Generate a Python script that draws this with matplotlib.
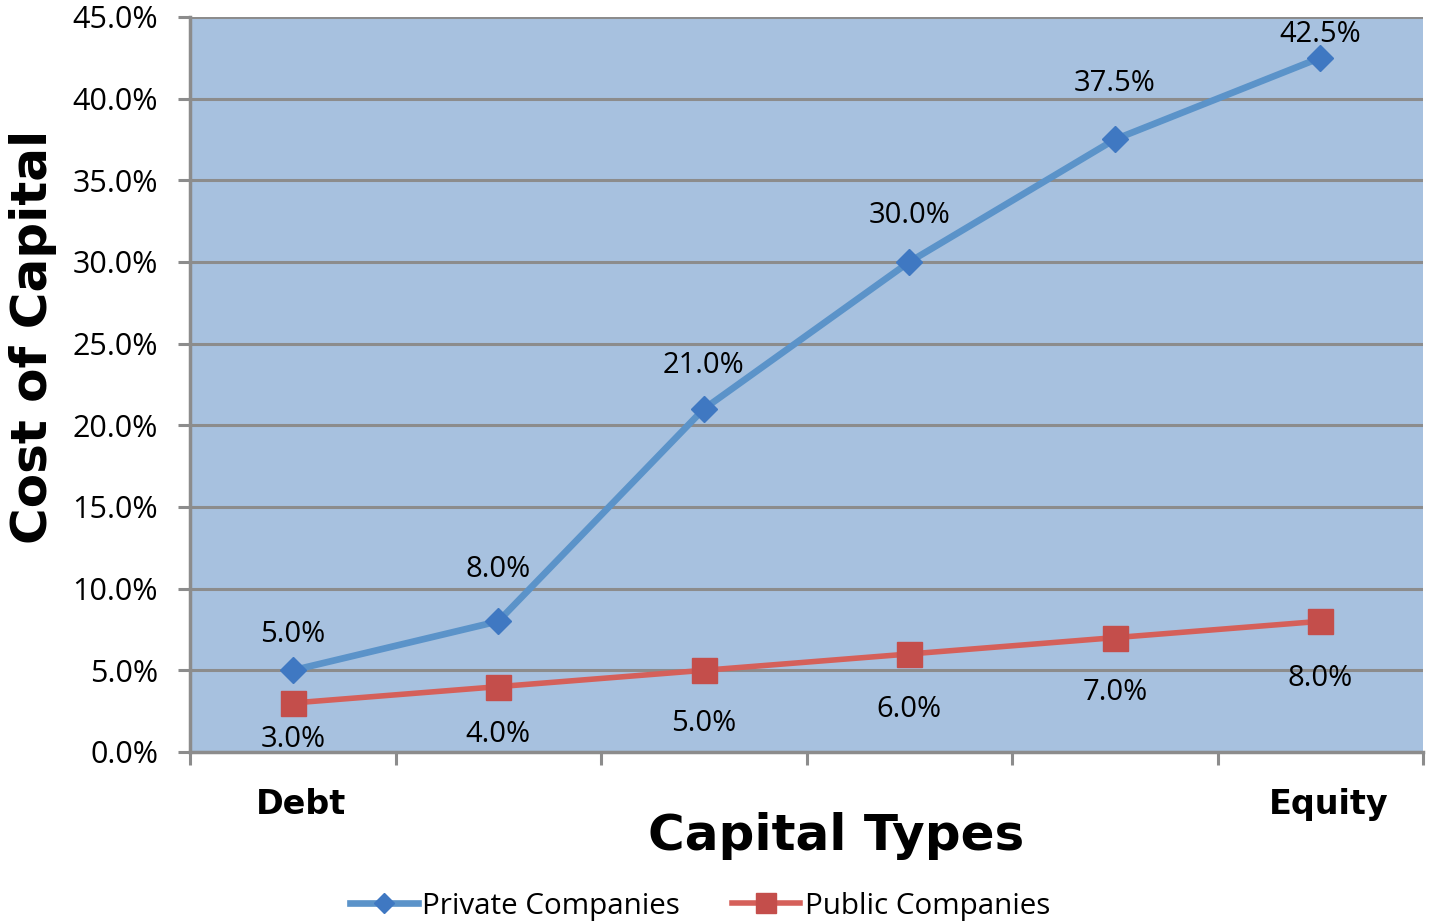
import matplotlib.pyplot as plt
import numpy as np

# Daten
private = [5.0, 8.0, 21.0, 30.0, 37.5, 42.5]
public = [3.0, 4.0, 5.0, 6.0, 7.0, 8.0]
end_labels = ['Debt', 'Equity']

# Beschriftungsabstand (Pixel) wie im Original
priv_off = [36, 52, 43, 46, 56, 23]
pub_off = [37, 48, 53, 56, 55, 57]

plt.rcParams['font.family'] = ['Open Sans', 'DejaVu Sans']

fig = plt.figure(figsize=(14.29, 9.22), dpi=100)
ax = fig.add_axes([0.133, 0.1844, 0.8628, 0.7972])
ax.set_facecolor('#A7C1DF')

x = np.arange(len(private))
gray = '#8C8C8C'
px = 72 / 100

ax.plot(x, private, '-', color='#5B93C9', lw=4.8, marker='D', ms=13,
        mfc='#3F78C2', mec='#3F78C2', label='Private Companies', zorder=3)
ax.plot(x, public, '-', color='#D5605A', lw=4, marker='s', ms=18,
        mfc='#C44E4B', mec='#C44E4B', label='Public Companies', zorder=3)

for xi, v, o in zip(x, private, priv_off):
    ax.annotate('%.1f%%' % v, (xi, v), xytext=(0, o * px), textcoords='offset points',
                ha='center', va='center', fontsize=21)
for xi, v, o in zip(x, public, pub_off):
    ax.annotate('%.1f%%' % v, (xi, v), xytext=(0, -o * px), textcoords='offset points',
                ha='center', va='center', fontsize=21)

ax.set_xlim(-0.5, 5.5)
ax.set_ylim(0, 45)
ax.set_yticks(np.arange(0, 46, 5))
ax.set_yticklabels(['%.1f%%' % t for t in np.arange(0, 46, 5)], fontsize=22)
ax.yaxis.grid(True, color=gray, lw=2.2)
ax.set_axisbelow(True)

ax.set_xticks(np.arange(-0.5, 5.6, 1))
ax.set_xticklabels([])
ax.set_xticks([0.04, 5.04], minor=True)
ax.set_xticklabels(end_labels, minor=True, fontsize=24, fontweight='bold',
                   family='DejaVu Sans')
ax.tick_params(axis='x', which='minor', length=0, pad=26)
ax.tick_params(axis='both', which='major', length=9, width=2.2, color=gray)
ax.tick_params(axis='y', pad=14)

for s in ['top', 'right']:
    ax.spines[s].set_visible(False)
for s in ['left', 'bottom']:
    ax.spines[s].set_color(gray)
    ax.spines[s].set_linewidth(2.5)

fig.text(836 / 1429, 1 - 836 / 922, 'Capital Types', ha='center', va='center',
         fontsize=36, fontweight='bold', family='DejaVu Sans')
fig.text(33 / 1429, 1 - 337 / 922, 'Cost of Capital', ha='center', va='center',
         rotation=90, fontsize=36, fontweight='bold', family='DejaVu Sans')

fig.legend(loc='center', bbox_to_anchor=(700 / 1429, 1 - 906 / 922), ncol=2,
           frameon=False, fontsize=21.3, handlelength=2.3, handletextpad=0.15,
           columnspacing=1.75, markerscale=0.8)

plt.savefig('out.png', dpi=100)
